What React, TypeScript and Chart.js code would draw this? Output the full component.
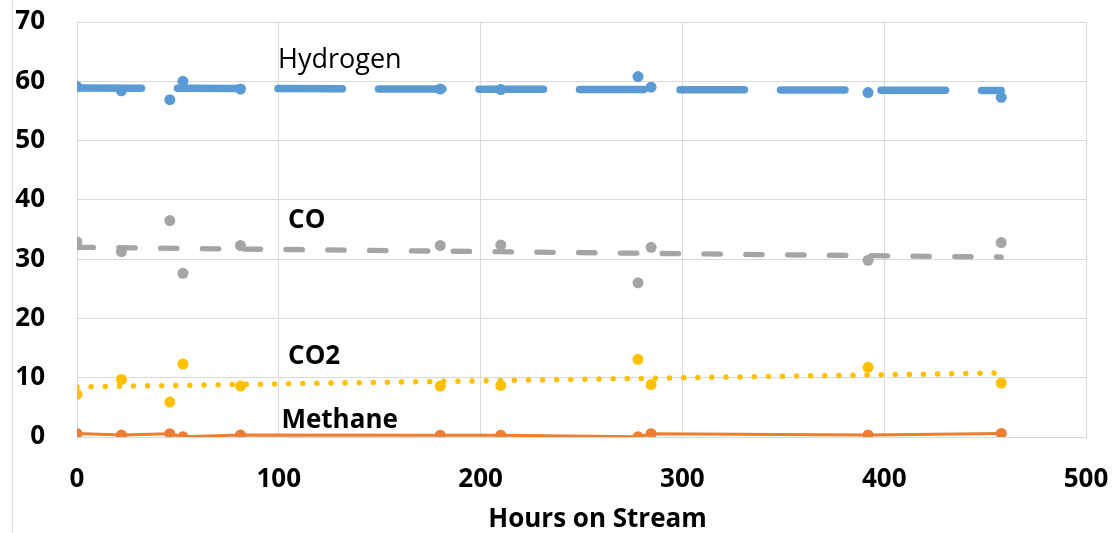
import React, { useEffect, useRef } from "react";
import { Chart, registerables } from "chart.js";

Chart.register(...registerables);

// Hours on stream (x values shared by all gases)
const hours = [0, 22, 46, 52.5, 81, 180, 210, 278, 284.5, 392, 458];

// Gas composition (%)
const hydrogen = [59.1, 58.4, 56.9, 60.0, 58.7, 58.7, 58.6, 60.8, 59.0, 58.1, 57.3];
const co = [32.9, 31.25, 36.5, 27.6, 32.3, 32.3, 32.4, 26.0, 32.0, 29.8, 32.8];
const co2 = [7.2, 9.7, 5.9, 12.3, 8.6, 8.6, 8.7, 13.1, 8.85, 11.75, 9.1];
const methane = [0.6, 0.35, 0.55, 0.05, 0.35, 0.3, 0.3, 0.05, 0.55, 0.35, 0.6];

// Linear trend lines: [value at first hour, value at last hour]
const hydrogenTrend = [58.85, 58.45];
const coTrend = [32.0, 30.35];
const co2Trend = [8.45, 10.8];

// Axis ticks
const xTicks = [0, 100, 200, 300, 400, 500];
const yTicks = [0, 10, 20, 30, 40, 50, 60, 70];

// Texts
const seriesLabels = ["Hydrogen", "CO", "CO2", "Methane"];
const xTitle = "Hours on Stream";

const FONT = "'Open Sans', 'DejaVu Sans', sans-serif";

const pts = (ys: number[]) => hours.map((x, i) => ({ x, y: ys[i] }));
const trend = (t: number[]) => [
  { x: hours[0], y: t[0] },
  { x: hours[hours.length - 1], y: t[1] },
];

// label anchor (data coords, left / baseline) and style
const labelPlacement = [
  { text: seriesLabels[0], x: 99.6, y: 62.3, weight: "normal", size: 27 },
  { text: seriesLabels[1], x: 104.6, y: 35.25, weight: "bold", size: 26 },
  { text: seriesLabels[2], x: 104.6, y: 12.3, weight: "bold", size: 26 },
  { text: seriesLabels[3], x: 101.3, y: 1.5, weight: "bold", size: 26 },
];

const labelPlugin = {
  id: "seriesLabels",
  afterDatasetsDraw(chart: any) {
    const ctx = chart.ctx;
    const xs = chart.scales.x;
    const ys = chart.scales.y;
    ctx.save();
    ctx.fillStyle = "#000";
    ctx.textAlign = "left";
    ctx.textBaseline = "alphabetic";
    labelPlacement.forEach((l) => {
      ctx.font = `${l.weight} ${l.size}px ${FONT}`;
      ctx.fillText(l.text, xs.getPixelForValue(l.x), ys.getPixelForValue(l.y));
    });
    // axis title (slightly right of the plot centre, as in the source)
    const ca = chart.chartArea;
    ctx.font = `bold 26px ${FONT}`;
    ctx.textAlign = "center";
    ctx.fillText(xTitle, (ca.left + ca.right) / 2 + 16, chart.height - 6);
    ctx.restore();
  },
  beforeDraw(chart: any) {
    const ctx = chart.ctx;
    ctx.save();
    ctx.fillStyle = "#fff";
    ctx.fillRect(0, 0, chart.width, chart.height);
    ctx.strokeStyle = "#e0e0e0";
    ctx.lineWidth = 1;
    ctx.beginPath();
    ctx.moveTo(12.5, 0);
    ctx.lineTo(12.5, chart.height);
    ctx.stroke();
    ctx.restore();
  },
};

const noPad = (s: any) => {
  s.paddingTop = 0;
  s.paddingBottom = 0;
  s.paddingLeft = 0;
  s.paddingRight = 0;
};

export default function App() {
  const ref = useRef<HTMLCanvasElement>(null);

  useEffect(() => {
    if (!ref.current) return;
    const chart = new Chart(ref.current, {
      type: "scatter",
      data: {
        datasets: [
          {
            label: "Methane",
            data: pts(methane),
            showLine: true,
            borderColor: "#ED7D31",
            backgroundColor: "#ED7D31",
            borderWidth: 3,
            pointRadius: 5.5,
            pointBorderWidth: 0,
            tension: 0,
          },
          {
            label: "CO2",
            data: pts(co2),
            backgroundColor: "#FFC000",
            borderColor: "#FFC000",
            pointRadius: 5.5,
            pointBorderWidth: 0,
          },
          {
            label: "CO2 trend",
            data: trend(co2Trend),
            showLine: true,
            borderColor: "#FFC000",
            borderWidth: 5.5,
            borderDash: [0.01, 14.1],
            borderCapStyle: "round",
            pointRadius: 0,
          },
          {
            label: "CO",
            data: pts(co),
            backgroundColor: "#A5A5A5",
            borderColor: "#A5A5A5",
            pointRadius: 5.5,
            pointBorderWidth: 0,
          },
          {
            label: "CO trend",
            data: trend(coTrend),
            showLine: true,
            borderColor: "#A5A5A5",
            borderWidth: 5.3,
            borderDash: [16.4, 25.4],
            borderCapStyle: "round",
            pointRadius: 0,
          },
          {
            label: "Hydrogen",
            data: pts(hydrogen),
            backgroundColor: "#5B9BD5",
            borderColor: "#5B9BD5",
            pointRadius: 5.5,
            pointBorderWidth: 0,
          },
          {
            label: "Hydrogen trend",
            data: trend(hydrogenTrend),
            showLine: true,
            borderColor: "#5B9BD5",
            borderWidth: 7.5,
            borderDash: [64.5, 36],
            borderCapStyle: "round",
            pointRadius: 0,
          },
        ],
      },
      options: {
        animation: false,
        responsive: false,
        devicePixelRatio: 1,
        layout: { padding: { top: 22, right: 29, left: 0, bottom: 0 } },
        plugins: {
          legend: { display: false },
          tooltip: { enabled: false },
        },
        scales: {
          x: {
            type: "linear",
            min: xTicks[0],
            max: xTicks[xTicks.length - 1],
            afterBuildTicks: (s: any) => {
              s.ticks = xTicks.map((v) => ({ value: v }));
            },
            afterFit: (s: any) => {
              s.height = 96;
              noPad(s);
            },
            grid: { color: "#d9d9d9", lineWidth: 1, drawTicks: false },
            border: { color: "#d9d9d9" },
            ticks: {
              color: "#000",
              padding: 27,
              maxRotation: 0,
              font: { family: FONT, size: 26, weight: "bold" },
            },
            title: { display: false },
          },
          y: {
            type: "linear",
            min: yTicks[0],
            max: yTicks[yTicks.length - 1],
            afterBuildTicks: (s: any) => {
              s.ticks = yTicks.map((v) => ({ value: v }));
            },
            afterFit: (s: any) => {
              s.width = 77;
              noPad(s);
            },
            grid: { color: "#d9d9d9", lineWidth: 1, drawTicks: false },
            border: { color: "#d9d9d9" },
            ticks: {
              color: "#000",
              padding: 32,
              font: { family: FONT, size: 26, weight: "bold" },
            },
          },
        },
      },
      plugins: [labelPlugin],
    } as any);
    return () => chart.destroy();
  }, []);

  return (
    <div style={{ position: "fixed", left: 0, top: 0, width: 1115, height: 533, background: "#fff" }}>
      <canvas ref={ref} width={1115} height={533} />
    </div>
  );
}
